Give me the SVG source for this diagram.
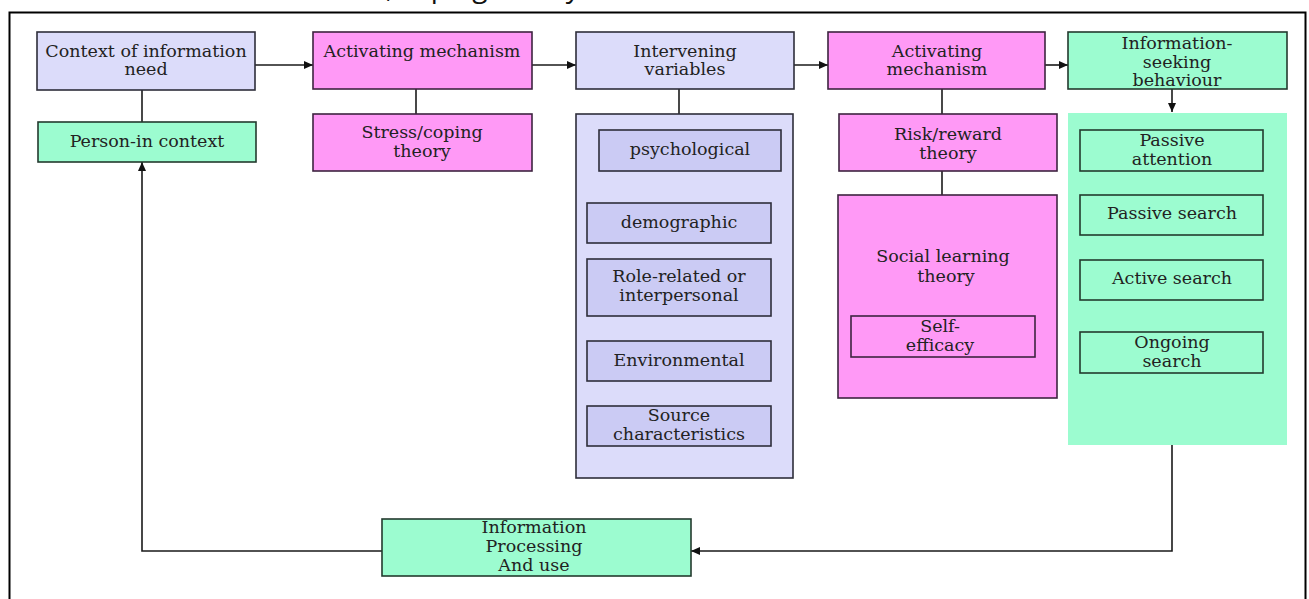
<svg xmlns="http://www.w3.org/2000/svg" width="1309" height="599" viewBox="0 0 1309 599">
  <style>
    .lav { fill: #dcdcfa; stroke: #2e2e3a; stroke-width: 1.6; }
    .lav2 { fill: #cbcbf4; stroke: #2e2e3a; stroke-width: 1.6; }
    .pink { fill: #ff99f6; stroke: #3e2340; stroke-width: 1.6; }
    .green { fill: #9cfcd0; stroke: #233a2e; stroke-width: 1.6; }
    .inner { fill: none; stroke: #233a2e; stroke-width: 1.6; }
    .innerp { fill: none; stroke: #3e2340; stroke-width: 1.6; }
    .gbg { fill: #9cfcd0; stroke: none; }
    text { font-family: "DejaVu Serif", "Liberation Serif", serif; font-size: 17.5px; fill: #222; text-anchor: middle; }
    .conn { fill: none; stroke: #1a1a1a; stroke-width: 1.6; }
    .top { font-family: "Open Sans", "Liberation Sans", sans-serif; font-size: 28px; text-anchor: start; fill: #111; }
  </style>
  <defs>
    <marker id="arr" markerWidth="10" markerHeight="8" refX="9" refY="4" orient="auto" markerUnits="userSpaceOnUse">
      <path d="M0,0 L9,4 L0,8 Z" fill="#111"/>
    </marker>
  </defs>
  <rect x="0" y="0" width="1309" height="599" fill="#ffffff"/>
  <text class="top" x="386" y="-3">, coping theory</text>
  <rect x="9.5" y="12.5" width="1296" height="600" fill="none" stroke="#000" stroke-width="2"/>

  <g id="connectors">
    <line class="conn" x1="255" y1="65" x2="313" y2="65" marker-end="url(#arr)"/>
    <line class="conn" x1="532" y1="65" x2="576" y2="65" marker-end="url(#arr)"/>
    <line class="conn" x1="794" y1="65" x2="828" y2="65" marker-end="url(#arr)"/>
    <line class="conn" x1="1045" y1="65" x2="1068" y2="65" marker-end="url(#arr)"/>
    <line class="conn" x1="142" y1="90" x2="142" y2="122"/>
    <line class="conn" x1="416" y1="89" x2="416" y2="114"/>
    <line class="conn" x1="679" y1="89" x2="679" y2="114"/>
    <line class="conn" x1="942" y1="89" x2="942" y2="114"/>
    <line class="conn" x1="942" y1="171" x2="942" y2="195"/>
    <line class="conn" x1="1172" y1="89" x2="1172" y2="112" marker-end="url(#arr)"/>
    <polyline class="conn" points="1172,445 1172,551 691,551" marker-end="url(#arr)"/>
    <polyline class="conn" points="382,551 142,551 142,162" marker-end="url(#arr)"/>
  </g>

  <g id="context">
    <rect class="lav" x="37" y="32" width="218" height="58"/>
    <text x="146" y="57">Context of information</text>
    <text x="146" y="75">need</text>
  </g>
  <g id="person">
    <rect class="green" x="38" y="122" width="218" height="40"/>
    <text x="147" y="147">Person-in context</text>
  </g>
  <g id="activating1">
    <rect class="pink" x="313" y="32" width="219" height="57"/>
    <text x="422" y="57">Activating mechanism</text>
  </g>
  <g id="stress">
    <rect class="pink" x="313" y="114" width="219" height="57"/>
    <text x="422" y="138">Stress/coping</text>
    <text x="422" y="157">theory</text>
  </g>
  <g id="intervening">
    <rect class="lav" x="576" y="32" width="218" height="57"/>
    <text x="685" y="57">Intervening</text>
    <text x="685" y="75">variables</text>
  </g>
  <g id="variables">
    <rect class="lav" x="576" y="114" width="217" height="364"/>
    <g id="psychological">
      <rect class="lav2" x="599" y="130" width="182" height="41"/>
      <text x="690" y="155">psychological</text>
    </g>
    <g id="demographic">
      <rect class="lav2" x="587" y="203" width="184" height="40"/>
      <text x="679" y="228">demographic</text>
    </g>
    <g id="role">
      <rect class="lav2" x="587" y="259" width="184" height="57"/>
      <text x="679" y="282">Role-related or</text>
      <text x="679" y="301">interpersonal</text>
    </g>
    <g id="environmental">
      <rect class="lav2" x="587" y="341" width="184" height="40"/>
      <text x="679" y="366">Environmental</text>
    </g>
    <g id="source">
      <rect class="lav2" x="587" y="406" width="184" height="40"/>
      <text x="679" y="421">Source</text>
      <text x="679" y="440">characteristics</text>
    </g>
  </g>
  <g id="activating2">
    <rect class="pink" x="828" y="32" width="217" height="57"/>
    <text x="937" y="57">Activating</text>
    <text x="937" y="75">mechanism</text>
  </g>
  <g id="risk">
    <rect class="pink" x="839" y="114" width="218" height="57"/>
    <text x="948" y="140">Risk/reward</text>
    <text x="948" y="159">theory</text>
  </g>
  <g id="social">
    <rect class="pink" x="838" y="195" width="219" height="203"/>
    <text x="943" y="262">Social learning</text>
    <text x="946" y="282">theory</text>
    <g id="selfefficacy">
      <rect class="innerp" x="851" y="316" width="184" height="41"/>
      <text x="940" y="332">Self-</text>
      <text x="940" y="351">efficacy</text>
    </g>
  </g>
  <g id="seeking">
    <rect class="green" x="1068" y="32" width="219" height="57"/>
    <text x="1177" y="49">Information-</text>
    <text x="1177" y="68">seeking</text>
    <text x="1177" y="86">behaviour</text>
  </g>
  <g id="behaviours">
    <rect class="gbg" x="1068" y="113" width="219" height="332"/>
    <g id="passiveattention">
      <rect class="inner" x="1080" y="130" width="183" height="41"/>
      <text x="1172" y="146">Passive</text>
      <text x="1172" y="165">attention</text>
    </g>
    <g id="passivesearch">
      <rect class="inner" x="1080" y="195" width="183" height="40"/>
      <text x="1172" y="219">Passive search</text>
    </g>
    <g id="activesearch">
      <rect class="inner" x="1080" y="260" width="183" height="40"/>
      <text x="1172" y="284">Active search</text>
    </g>
    <g id="ongoing">
      <rect class="inner" x="1080" y="332" width="183" height="41"/>
      <text x="1172" y="348">Ongoing</text>
      <text x="1172" y="367">search</text>
    </g>
  </g>
  <g id="processing">
    <rect class="green" x="382" y="519" width="309" height="57"/>
    <text x="534" y="533">Information</text>
    <text x="534" y="552">Processing</text>
    <text x="534" y="571">And use</text>
  </g>
</svg>
